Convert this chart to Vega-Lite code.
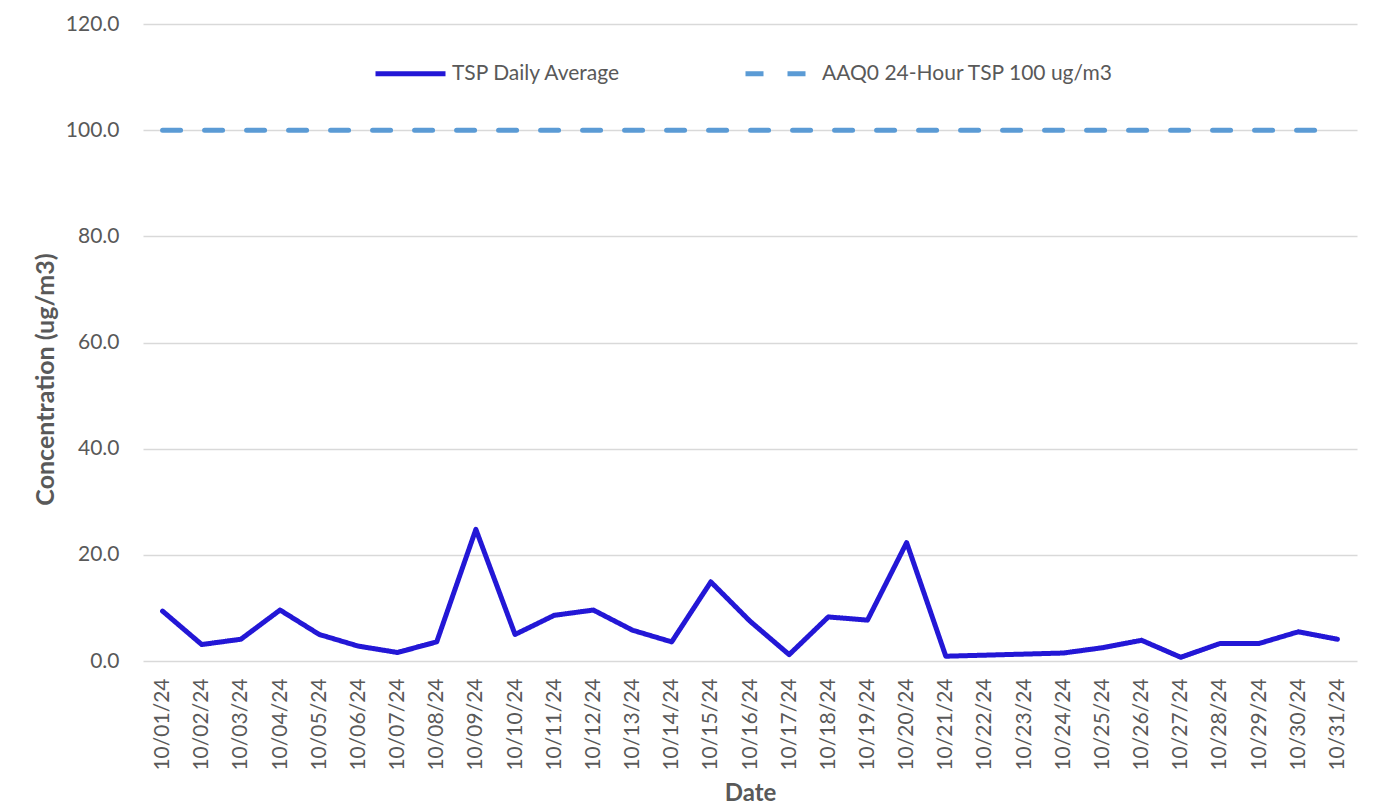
{
  "$schema": "https://vega.github.io/schema/vega-lite/v6.json",
  "width": 1214,
  "height": 637,
  "autosize": {"type": "none"},
  "padding": {"left": 143, "top": 24, "right": 33, "bottom": 151},
  "background": "white",
  "config": {"view": {"stroke": null}, "font": "Lato"},
  "data": {
    "values": [
      {"date": "10/01/24", "series": "TSP Daily Average", "value": 9.4},
      {"date": "10/02/24", "series": "TSP Daily Average", "value": 3.1},
      {"date": "10/03/24", "series": "TSP Daily Average", "value": 4.1},
      {"date": "10/04/24", "series": "TSP Daily Average", "value": 9.6},
      {"date": "10/05/24", "series": "TSP Daily Average", "value": 5.0},
      {"date": "10/06/24", "series": "TSP Daily Average", "value": 2.8},
      {"date": "10/07/24", "series": "TSP Daily Average", "value": 1.6},
      {"date": "10/08/24", "series": "TSP Daily Average", "value": 3.6},
      {"date": "10/09/24", "series": "TSP Daily Average", "value": 24.8},
      {"date": "10/10/24", "series": "TSP Daily Average", "value": 5.0},
      {"date": "10/11/24", "series": "TSP Daily Average", "value": 8.6},
      {"date": "10/12/24", "series": "TSP Daily Average", "value": 9.6},
      {"date": "10/13/24", "series": "TSP Daily Average", "value": 5.8},
      {"date": "10/14/24", "series": "TSP Daily Average", "value": 3.6},
      {"date": "10/15/24", "series": "TSP Daily Average", "value": 14.9},
      {"date": "10/16/24", "series": "TSP Daily Average", "value": 7.5},
      {"date": "10/17/24", "series": "TSP Daily Average", "value": 1.2},
      {"date": "10/18/24", "series": "TSP Daily Average", "value": 8.3},
      {"date": "10/19/24", "series": "TSP Daily Average", "value": 7.7},
      {"date": "10/20/24", "series": "TSP Daily Average", "value": 22.3},
      {"date": "10/21/24", "series": "TSP Daily Average", "value": 0.9},
      {"date": "10/22/24", "series": "TSP Daily Average", "value": 1.1},
      {"date": "10/23/24", "series": "TSP Daily Average", "value": 1.3},
      {"date": "10/24/24", "series": "TSP Daily Average", "value": 1.5},
      {"date": "10/25/24", "series": "TSP Daily Average", "value": 2.5},
      {"date": "10/26/24", "series": "TSP Daily Average", "value": 3.9},
      {"date": "10/27/24", "series": "TSP Daily Average", "value": 0.7},
      {"date": "10/28/24", "series": "TSP Daily Average", "value": 3.3},
      {"date": "10/29/24", "series": "TSP Daily Average", "value": 3.3},
      {"date": "10/30/24", "series": "TSP Daily Average", "value": 5.5},
      {"date": "10/31/24", "series": "TSP Daily Average", "value": 4.1},
      {"date": "10/01/24", "series": "AAQ0 24-Hour TSP 100 ug/m3", "value": 100},
      {"date": "10/02/24", "series": "AAQ0 24-Hour TSP 100 ug/m3", "value": 100},
      {"date": "10/03/24", "series": "AAQ0 24-Hour TSP 100 ug/m3", "value": 100},
      {"date": "10/04/24", "series": "AAQ0 24-Hour TSP 100 ug/m3", "value": 100},
      {"date": "10/05/24", "series": "AAQ0 24-Hour TSP 100 ug/m3", "value": 100},
      {"date": "10/06/24", "series": "AAQ0 24-Hour TSP 100 ug/m3", "value": 100},
      {"date": "10/07/24", "series": "AAQ0 24-Hour TSP 100 ug/m3", "value": 100},
      {"date": "10/08/24", "series": "AAQ0 24-Hour TSP 100 ug/m3", "value": 100},
      {"date": "10/09/24", "series": "AAQ0 24-Hour TSP 100 ug/m3", "value": 100},
      {"date": "10/10/24", "series": "AAQ0 24-Hour TSP 100 ug/m3", "value": 100},
      {"date": "10/11/24", "series": "AAQ0 24-Hour TSP 100 ug/m3", "value": 100},
      {"date": "10/12/24", "series": "AAQ0 24-Hour TSP 100 ug/m3", "value": 100},
      {"date": "10/13/24", "series": "AAQ0 24-Hour TSP 100 ug/m3", "value": 100},
      {"date": "10/14/24", "series": "AAQ0 24-Hour TSP 100 ug/m3", "value": 100},
      {"date": "10/15/24", "series": "AAQ0 24-Hour TSP 100 ug/m3", "value": 100},
      {"date": "10/16/24", "series": "AAQ0 24-Hour TSP 100 ug/m3", "value": 100},
      {"date": "10/17/24", "series": "AAQ0 24-Hour TSP 100 ug/m3", "value": 100},
      {"date": "10/18/24", "series": "AAQ0 24-Hour TSP 100 ug/m3", "value": 100},
      {"date": "10/19/24", "series": "AAQ0 24-Hour TSP 100 ug/m3", "value": 100},
      {"date": "10/20/24", "series": "AAQ0 24-Hour TSP 100 ug/m3", "value": 100},
      {"date": "10/21/24", "series": "AAQ0 24-Hour TSP 100 ug/m3", "value": 100},
      {"date": "10/22/24", "series": "AAQ0 24-Hour TSP 100 ug/m3", "value": 100},
      {"date": "10/23/24", "series": "AAQ0 24-Hour TSP 100 ug/m3", "value": 100},
      {"date": "10/24/24", "series": "AAQ0 24-Hour TSP 100 ug/m3", "value": 100},
      {"date": "10/25/24", "series": "AAQ0 24-Hour TSP 100 ug/m3", "value": 100},
      {"date": "10/26/24", "series": "AAQ0 24-Hour TSP 100 ug/m3", "value": 100},
      {"date": "10/27/24", "series": "AAQ0 24-Hour TSP 100 ug/m3", "value": 100},
      {"date": "10/28/24", "series": "AAQ0 24-Hour TSP 100 ug/m3", "value": 100},
      {"date": "10/29/24", "series": "AAQ0 24-Hour TSP 100 ug/m3", "value": 100},
      {"date": "10/30/24", "series": "AAQ0 24-Hour TSP 100 ug/m3", "value": 100},
      {"date": "10/31/24", "series": "AAQ0 24-Hour TSP 100 ug/m3", "value": 100}
    ]
  },
  "mark": {"type": "line", "strokeWidth": 5, "strokeCap": "round", "strokeJoin": "round"},
  "encoding": {
    "x": {
      "field": "date", "type": "ordinal", "sort": null,
      "scale": {"type": "point", "padding": 0.5},
      "axis": {
        "title": "Date", "labelAngle": -90, "labelAlign": "right", "labelBaseline": "middle",
        "labelPadding": 17, "labelFontSize": 21, "labelColor": "#595959",
        "ticks": false, "domain": false, "grid": false, "labelOverlap": false,
        "titleFontSize": 24, "titleFontWeight": "bold", "titleColor": "#595959",
        "titleY": 132, "titleBaseline": "middle"
      }
    },
    "y": {
      "field": "value", "type": "quantitative",
      "scale": {"domain": [0, 120]},
      "axis": {
        "title": "Concentration (ug/m3)", "values": [0, 20, 40, 60, 80, 100, 120], "format": ".1f",
        "labelPadding": 24, "labelFontSize": 21, "labelColor": "#595959",
        "ticks": false, "domain": false, "gridColor": "#D9D9D9", "gridWidth": 1.5,
        "titleFontSize": 25, "titleFontWeight": "bold", "titleColor": "#595959",
        "titleX": -98, "titleY": 355, "titleAngle": -90, "titleAlign": "center", "titleBaseline": "middle"
      }
    },
    "color": {
      "field": "series", "type": "nominal",
      "scale": {"domain": ["TSP Daily Average", "AAQ0 24-Hour TSP 100 ug/m3"], "range": ["#2317D6", "#5B9BD5"]},
      "legend": {
        "title": null, "orient": "none", "direction": "horizontal", "legendX": 230, "legendY": 12,
        "symbolType": "stroke", "symbolSize": 4900, "symbolStrokeWidth": 5,
        "labelFontSize": 21, "labelColor": "#595959", "labelOffset": 4, "columnPadding": 114, "labelLimit": 400
      }
    },
    "strokeDash": {
      "field": "series", "type": "nominal",
      "scale": {"domain": ["TSP Daily Average", "AAQ0 24-Hour TSP 100 ug/m3"], "range": [[1, 0], [18, 24]]},
      "legend": {
        "title": null, "orient": "none", "direction": "horizontal", "legendX": 230, "legendY": 12,
        "symbolType": "stroke", "symbolSize": 4900, "symbolStrokeWidth": 5,
        "labelFontSize": 21, "labelColor": "#595959", "labelOffset": 4, "columnPadding": 114, "labelLimit": 400
      }
    }
  }
}
